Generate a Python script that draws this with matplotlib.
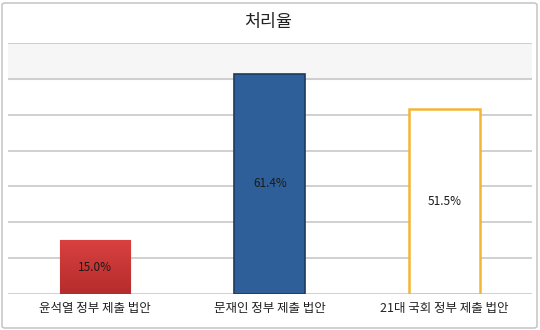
import numpy as np
import matplotlib
matplotlib.use("Agg")
from matplotlib import pyplot as plt
from matplotlib.colors import LinearSegmentedColormap
from matplotlib.patches import FancyBboxPatch

plt.rcParams['font.family'] = ['Noto Sans CJK KR', 'DejaVu Sans']

title = "처리율"
categories = ["윤석열 정부 제출 법안", "문재인 정부 제출 법안", "21대 국회 정부 제출 법안"]
rates = [15.0, 61.4, 51.5]

fig = plt.figure(figsize=(5.4, 3.3), dpi=100)
ax = fig.add_axes([7.6 / 540, 36 / 330, 524.4 / 540, 251 / 330])

x = np.arange(len(categories))
ax.set_xlim(-0.5, len(categories) - 0.5)
ax.set_ylim(0, 70)

# shaded top band and gridlines
ax.axhspan(60, 70, color='#f6f6f6', zorder=0)
for yv in np.arange(10, 71, 10):
    ax.axhline(yv, color='#c4c4c4', lw=1.1, zorder=1)
ax.axhline(0, color='#c4c4c4', lw=1.1, zorder=1)

faces = ['#d23a3a', '#2f5f98', 'white']
edges = ['#c03434', '#1f3a60', '#f2b534']
widths = [0.8, 1.2, 1.8]
bars = ax.bar(x, rates, width=0.405, color=faces, edgecolor=edges, zorder=3)
for b, w in zip(bars, widths):
    b.set_linewidth(w)

# gradient on the first bar
red = LinearSegmentedColormap.from_list('red', ['#b52c2c', '#d94040'])
b0 = bars[0]
grad = np.linspace(0, 1, 100).reshape(-1, 1)
im = ax.imshow(grad, cmap=red, origin='lower', aspect='auto', zorder=3.5,
               extent=[b0.get_x(), b0.get_x() + b0.get_width(), 0, b0.get_height()])
im.set_clip_path(b0)

for xi, v in zip(x, rates):
    ax.text(xi, v / 2, f"{v:.1f}%", ha='center', va='center', fontsize=8.5,
            color='#1a1a1a', zorder=5)

ax.set_xticks(x)
ax.set_xticklabels(categories, fontsize=9, color='#222222')
ax.tick_params(axis='x', length=0, pad=6)
ax.set_yticks([])
for s in ax.spines.values():
    s.set_visible(False)

fig.text(268 / 540, 1 - 22 / 330, title, ha='center', va='center', fontsize=12.5, color='#222222')

border = FancyBboxPatch((2 / 540, 2 / 330), 535 / 540, 325 / 330,
                        boxstyle='round,pad=0,rounding_size=0.006',
                        transform=fig.transFigure, fill=False,
                        edgecolor='#c8c8c8', lw=1.2)
fig.patches.append(border)

fig.savefig("out.png", dpi=100)
